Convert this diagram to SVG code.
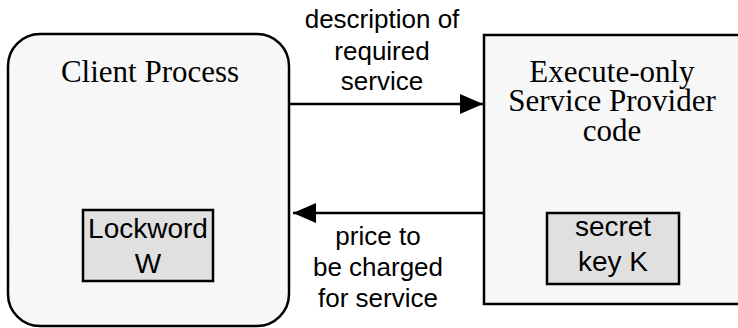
<svg xmlns="http://www.w3.org/2000/svg" width="738" height="328" viewBox="0 0 738 328">
<defs>
<style>
.box{fill:#f7f7f7;stroke:#000;stroke-width:2.5}
.inner{fill:#e0e0e0;stroke:#000;stroke-width:2.5}
.serif{font-family:"Liberation Serif","Times New Roman",serif;font-size:31px;fill:#000;text-anchor:middle}
.sans{font-family:"Liberation Sans",Arial,sans-serif;font-size:26px;fill:#000;text-anchor:middle}
.big{font-size:28px}
.conn{stroke:#000;stroke-width:2.5;fill:none}
</style>
<marker id="arr" markerUnits="userSpaceOnUse" markerWidth="24" markerHeight="22" refX="23" refY="10" orient="auto">
<path d="M0,0 L23,10 L0,20 Z" fill="#000"/>
</marker>
</defs>
<g id="client">
<rect class="box" x="8" y="34" width="281" height="292" rx="32" ry="32"/>
<text class="serif" x="150" y="82">Client Process</text>
</g>
<g id="lockword">
<rect class="inner" x="83" y="210" width="130" height="71"/>
<text class="sans big" x="148" y="238">Lockword</text>
<text class="sans big" x="148" y="273">W</text>
</g>
<g id="provider">
<rect class="box" x="484" y="35" width="270" height="269"/>
<text class="serif" x="612" y="82">Execute-only</text>
<text class="serif" x="612" y="111">Service Provider</text>
<text class="serif" x="612" y="141">code</text>
</g>
<g id="secretkey">
<rect class="inner" x="547" y="213" width="132" height="71"/>
<text class="sans big" x="613" y="236">secret</text>
<text class="sans big" x="613" y="271">key K</text>
</g>
<g id="connectors">
<line class="conn" x1="289" y1="104" x2="483" y2="104" marker-end="url(#arr)"/>
<line class="conn" x1="484" y1="213" x2="293" y2="213" marker-end="url(#arr)"/>
<text class="sans" x="382" y="28">description of</text>
<text class="sans" x="382" y="60">required</text>
<text class="sans" x="382" y="90">service</text>
<text class="sans" x="378" y="245">price to</text>
<text class="sans" x="378" y="276">be charged</text>
<text class="sans" x="378" y="307">for service</text>
</g>
</svg>
